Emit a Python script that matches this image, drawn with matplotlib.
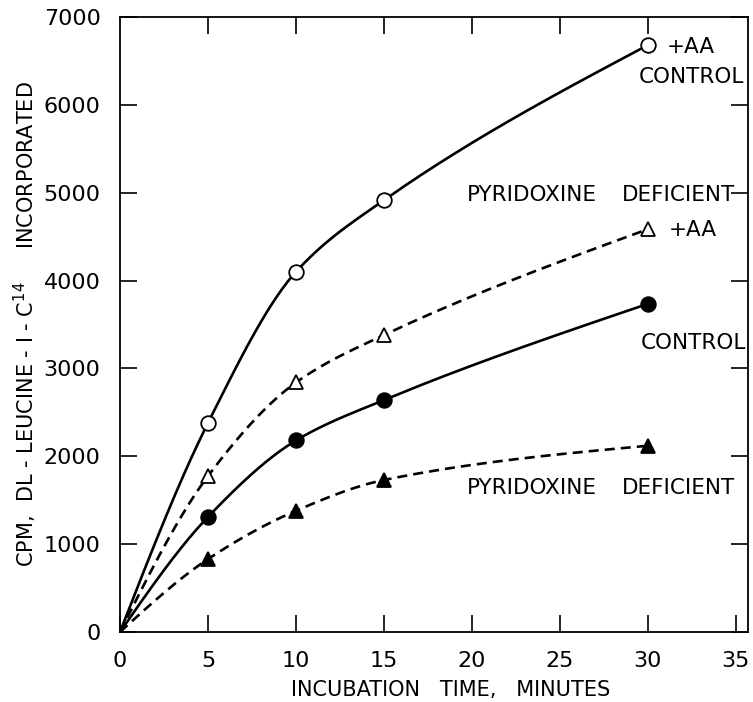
import numpy as np
import matplotlib
matplotlib.use("Agg")
import matplotlib.pyplot as plt

# incubation time, minutes
t = np.array([0, 5, 10, 15, 30])

# CPM incorporated
control_aa = np.array([0, 2380, 4100, 4915, 6680])
pyr_def_aa = np.array([0, 1775, 2840, 3380, 4585])
control = np.array([0, 1310, 2180, 2640, 3735])
pyr_def = np.array([0, 830, 1380, 1730, 2120])


def smooth(x, y, xn):
    # monotone cubic Hermite through the points (pchip slopes, natural ends)
    x = x.astype(float)
    y = y.astype(float)
    h = np.diff(x)
    d = np.diff(y) / h
    m = np.zeros(len(x))
    for k in range(1, len(x) - 1):
        w1 = 2 * h[k] + h[k - 1]
        w2 = h[k] + 2 * h[k - 1]
        m[k] = (w1 + w2) / (w1 / d[k - 1] + w2 / d[k])
    m[0] = (3 * d[0] - m[1]) / 2
    m[-1] = (3 * d[-1] - m[-2]) / 2
    out = np.empty(len(xn))
    for i, xv in enumerate(xn):
        k = min(max(np.searchsorted(x, xv, side="right") - 1, 0), len(x) - 2)
        s = (xv - x[k]) / h[k]
        out[i] = (2 * s**3 - 3 * s**2 + 1) * y[k] + (s**3 - 2 * s**2 + s) * h[k] * m[k] \
            + (-2 * s**3 + 3 * s**2) * y[k + 1] + (s**3 - s**2) * h[k] * m[k + 1]
    return out


fig = plt.figure(figsize=(7.53, 7.02), dpi=100)
ax = fig.add_axes([0.1594, 0.0997, 0.8341, 0.8761])

tt = np.linspace(0, 30, 300)
dash = (0, (3.8, 2.3))
series = [
    (control_aa, "-", "o", "white"),
    (pyr_def_aa, dash, "^", "white"),
    (control, "-", "o", "black"),
    (pyr_def, dash, "^", "black"),
]
for y, ls, mk, fc in series:
    ax.plot(tt, smooth(t, y, tt), color="black", lw=1.9, linestyle=ls, zorder=3)
    ax.plot(t[1:], y[1:], linestyle="none", marker=mk, ms=10.5 if mk == "o" else 9.5,
            mfc=fc, mec="black", mew=1.3, zorder=4)

fs = 15.5
ax.text(31.1, 6655, "+AA", fontsize=fs, va="center")
ax.text(29.5, 6314, "CONTROL", fontsize=fs, va="center")
ax.text(19.7, 4972, "PYRIDOXINE", fontsize=fs, va="center")
ax.text(28.5, 4972, "DEFICIENT", fontsize=fs, va="center")
ax.text(31.2, 4573, "+AA", fontsize=fs, va="center")
ax.text(29.6, 3288, "CONTROL", fontsize=fs, va="center")
ax.text(19.7, 1638, "PYRIDOXINE", fontsize=fs, va="center")
ax.text(28.5, 1638, "DEFICIENT", fontsize=fs, va="center")

ax.set_xlim(0, 35.7)
ax.set_ylim(0, 7000)
ax.set_xticks([0, 5, 10, 15, 20, 25, 30, 35])
ax.set_yticks(np.arange(0, 7001, 1000))
ax.tick_params(direction="in", length=12, width=1.2, labelsize=16, pad=14,
               right=True)
# top ticks only at 5..30
sec = ax.secondary_xaxis("top")
sec.set_xticks([5, 10, 15, 20, 25, 30])
sec.tick_params(direction="in", length=12, width=1.2, labeltop=False)
for s in ax.spines.values():
    s.set_linewidth(1.3)
sec.spines["top"].set_visible(False)

ax.set_xlabel("INCUBATION   TIME,   MINUTES", fontsize=15)
ax.xaxis.set_label_coords(0.527, -0.078)
ax.set_ylabel(r"CPM,  DL - LEUCINE - I - C$^{14}$     INCORPORATED", fontsize=15, labelpad=3)

fig.savefig("out.png", dpi=100)
